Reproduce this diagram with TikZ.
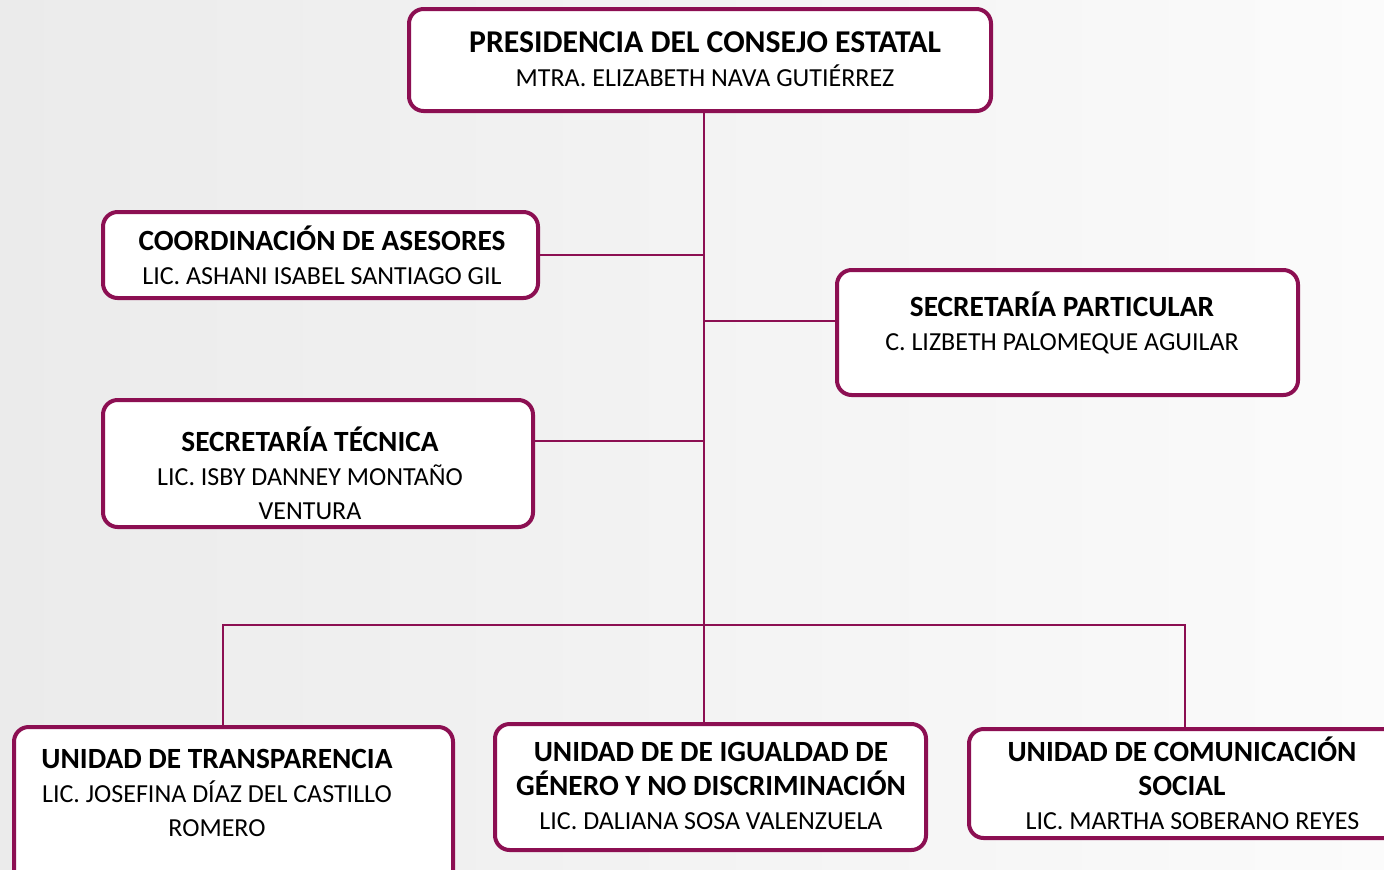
\documentclass[tikz,border=0pt]{standalone}
\usepackage{fontspec}
\setmainfont{Carlito}
\usetikzlibrary{fit}
\definecolor{maroon}{HTML}{8C0F52}
\newcommand{\ttlA}[1]{{\fontsize{22}{25.5}\selectfont\bfseries #1}}
\newcommand{\ttlB}[1]{{\fontsize{23.8}{25.5}\selectfont\bfseries #1}}
\tikzset{
  box/.style={draw=maroon, line width=3pt, fill=white, rounded corners=11pt, inner sep=0pt},
  lbl/.style={align=center, font=\fontsize{19.5}{25.5}\selectfont, inner sep=0pt, text=black},
  link/.style={draw=maroon, line width=1.3pt},
}
\begin{document}
\begin{tikzpicture}[x=0.75pt, y=-0.75pt]
\useasboundingbox (0,0) rectangle (1384,869);
\clip (0,0) rectangle (1384,869);
\shade[left color={rgb,255:red,235;green,235;blue,235}, right color={rgb,255:red,251;green,251;blue,251}] (0,0) rectangle (1384,869);
% trunk coordinates
\coordinate (jc) at (704,255);
\coordinate (jp) at (704,321);
\coordinate (jt) at (704,441);
\coordinate (bus) at (704,625);
\coordinate (bl) at (223,625);
\coordinate (br) at (1185,625);
% boxes
\node[box, fit={(409,9) (991,111)}] (pres) {};
\node[box, fit={(103,212) (538,298)}] (coord) {};
\node[box, fit={(837,270) (1298,395)}] (part) {};
\node[box, fit={(103,400) (533,527)}] (tec) {};
\node[box, fit={(14,727) (453,890)}] (trans) {};
\node[box, fit={(495,724) (926,850)}] (igual) {};
\node[box, fit={(969,729) (1400,838)}] (com) {};
% connectors
\draw[link] (pres.south -| bus) -- (igual.north -| bus);
\draw[link] (coord.east) -- (jc);
\draw[link] (jp) -- (jp -| part.west);
\draw[link] (jt) -- (jt -| tec.east);
\draw[link] (bl |- trans.north) -- (bl) -- (br) -- (br |- com.north);
% texts
\node[lbl] (presT) at (705,59) {\ttlB{PRESIDENCIA DEL CONSEJO ESTATAL}\\MTRA. ELIZABETH NAVA GUTIÉRREZ};
\node[lbl] (coordT) at (322,255) {\ttlA{COORDINACIÓN DE ASESORES}\\LIC. ASHANI ISABEL SANTIAGO GIL};
\node[lbl] (partT) at (1062,323) {\ttlA{SECRETARÍA PARTICULAR}\\C. LIZBETH PALOMEQUE AGUILAR};
\node[lbl] (tecT) at (310,473) {\ttlA{SECRETARÍA TÉCNICA}\\LIC. ISBY DANNEY MONTAÑO\\VENTURA};
\node[lbl] (transT) at (217,793) {\ttlA{UNIDAD DE TRANSPARENCIA}\\LIC. JOSEFINA DÍAZ DEL CASTILLO\\ROMERO};
\node[lbl] (igualT) at (711,786) {\ttlA{UNIDAD DE DE IGUALDAD DE}\\\ttlA{GÉNERO Y NO DISCRIMINACIÓN}\\LIC. DALIANA SOSA VALENZUELA};
\node[lbl] (comT) at (1182,783) {\ttlA{UNIDAD DE COMUNICACIÓN}\\\ttlA{SOCIAL}\\\hspace*{0.8em}LIC. MARTHA SOBERANO REYES};
\end{tikzpicture}
\end{document}
